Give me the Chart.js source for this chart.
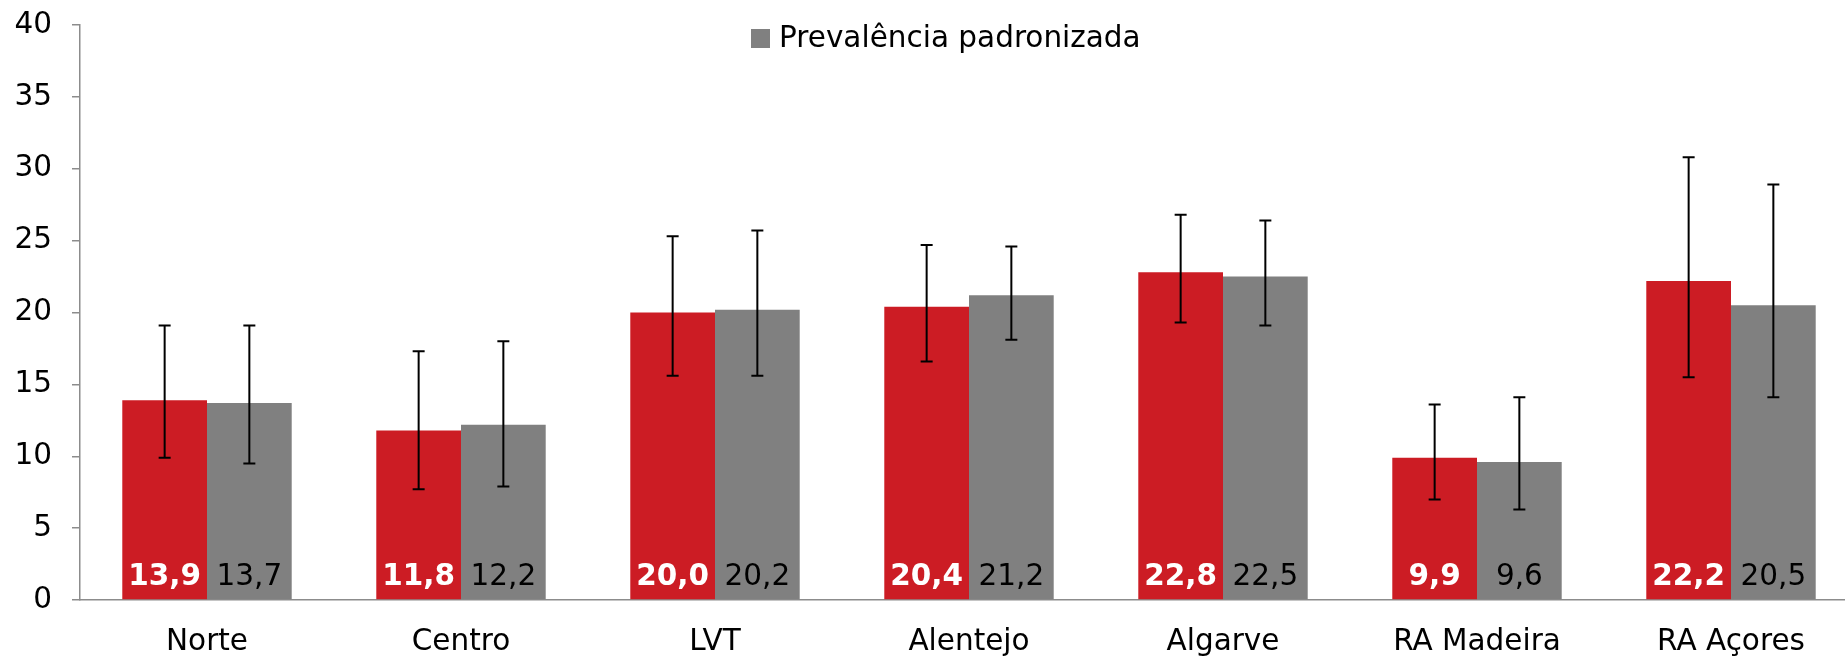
<!DOCTYPE html>
<html>
<head>
<meta charset="utf-8">
<script src="https://cdn.jsdelivr.net/npm/chart.js@4/dist/chart.umd.min.js"></script>
<style>
  html, body { margin: 0; padding: 0; background: #fff; overflow: hidden; }
  #wrap { position: relative; width: 1858px; height: 661px; }
</style>
</head>
<body>
<div id="wrap"><canvas id="prevChart"></canvas></div>
<script>
const regions = ['Norte', 'Centro', 'LVT', 'Alentejo', 'Algarve', 'RA Madeira', 'RA Açores'];

// prevalência bruta (red) with 95% CI
const crude = [13.9, 11.8, 20.0, 20.4, 22.8, 9.9, 22.2];
const crudeLow = [9.9, 7.7, 15.6, 16.6, 19.3, 7.0, 15.5];
const crudeHigh = [19.1, 17.3, 25.3, 24.7, 26.8, 13.6, 30.8];

// prevalência padronizada (grey) with 95% CI
const standardized = [13.7, 12.2, 20.2, 21.2, 22.5, 9.6, 20.5];
const stdLow = [9.5, 7.9, 15.6, 18.1, 19.1, 6.3, 14.1];
const stdHigh = [19.1, 18.0, 25.7, 24.6, 26.4, 14.1, 28.9];

const FONT = 'DejaVu Sans';
const FSIZE = 29.5;
const RED = '#cc1c24';
const GREY = '#808080';
const AXIS = '#8c8c8c';

function fmt(v) {
	return v.toFixed(1).replace('.', ',');
}

// error bars + value labels at the foot of each bar
const barExtras = {
	id: 'barExtras',
	afterDatasetsDraw(chart) {
		const ctx = chart.ctx;
		const y = chart.scales.y;
		const bottom = chart.chartArea.bottom;
		const ranges = [[crudeLow, crudeHigh], [stdLow, stdHigh]];
		ctx.save();
		chart.data.datasets.forEach(function (ds, i) {
			const meta = chart.getDatasetMeta(i);
			meta.data.forEach(function (bar, j) {
				// value label
				ctx.font = (i === 0 ? 'bold ' : '') + FSIZE + 'px "' + FONT + '"';
				ctx.fillStyle = i === 0 ? '#ffffff' : '#000000';
				ctx.textAlign = 'center';
				ctx.textBaseline = 'alphabetic';
				ctx.fillText(fmt(ds.data[j]), bar.x, bottom - 15);

				// error bar
				const lo = y.getPixelForValue(ranges[i][0][j]);
				const hi = y.getPixelForValue(ranges[i][1][j]);
				ctx.strokeStyle = '#000000';
				ctx.lineWidth = 2;
				ctx.beginPath();
				ctx.moveTo(bar.x, lo);
				ctx.lineTo(bar.x, hi);
				ctx.moveTo(bar.x - 6, lo);
				ctx.lineTo(bar.x + 6, lo);
				ctx.moveTo(bar.x - 6, hi);
				ctx.lineTo(bar.x + 6, hi);
				ctx.stroke();
			});
		});
		ctx.restore();
	}
};

// legend only shows the standardized series, sitting inside the plot
const topLegend = {
	id: 'topLegend',
	afterDraw(chart) {
		const ctx = chart.ctx;
		ctx.save();
		ctx.fillStyle = GREY;
		ctx.fillRect(751, 29, 19, 19);
		ctx.fillStyle = '#000000';
		ctx.font = FSIZE + 'px "' + FONT + '"';
		ctx.textAlign = 'left';
		ctx.textBaseline = 'alphabetic';
		ctx.fillText(chart.data.datasets[1].label, 779, 47);
		ctx.restore();
	}
};

function prevalenceChart(ctx) {
	const chart = new Chart(ctx, {
		type: 'bar',
		data: {
			labels: regions,
			datasets: [{
				label: 'Prevalência bruta',
				data: crude,
				backgroundColor: RED,
				categoryPercentage: 0.667,
				barPercentage: 1.0
			},
			{
				label: 'Prevalência padronizada',
				data: standardized,
				backgroundColor: GREY,
				categoryPercentage: 0.667,
				barPercentage: 1.0
			}]
		},
		options: {
			responsive: true,
			maintainAspectRatio: false,
			animation: false,
			layout: { padding: { top: 25, left: 0, right: 0, bottom: 0 } },
			plugins: {
				legend: { display: false },
				tooltip: { enabled: false }
			},
			scales: {
				x: {
					grid: { display: false, drawTicks: false },
					border: { display: true, color: AXIS, width: 1.5 },
					ticks: {
						color: '#000000',
						font: { family: FONT, size: FSIZE },
						padding: 25,
						maxRotation: 0,
						autoSkip: false
					},
					afterFit: function (scale) {
						scale.height = 61;
						scale.paddingLeft = 0;
						scale.paddingRight = 0;
					}
				},
				y: {
					min: 0,
					max: 40,
					grid: {
						drawOnChartArea: false,
						drawTicks: true,
						tickLength: 8,
						color: AXIS,
						lineWidth: 1.5
					},
					border: { display: true, color: AXIS, width: 1.5 },
					ticks: {
						stepSize: 5,
						color: '#000000',
						font: { family: FONT, size: FSIZE },
						padding: 20
					},
					afterFit: function (scale) {
						scale.width = 80;
						scale.paddingTop = 0;
						scale.paddingBottom = 0;
					}
				}
			}
		},
		plugins: [barExtras, topLegend]
	});
	return chart;
}

var chart = prevalenceChart(document.getElementById('prevChart'));
</script>
</body>
</html>
